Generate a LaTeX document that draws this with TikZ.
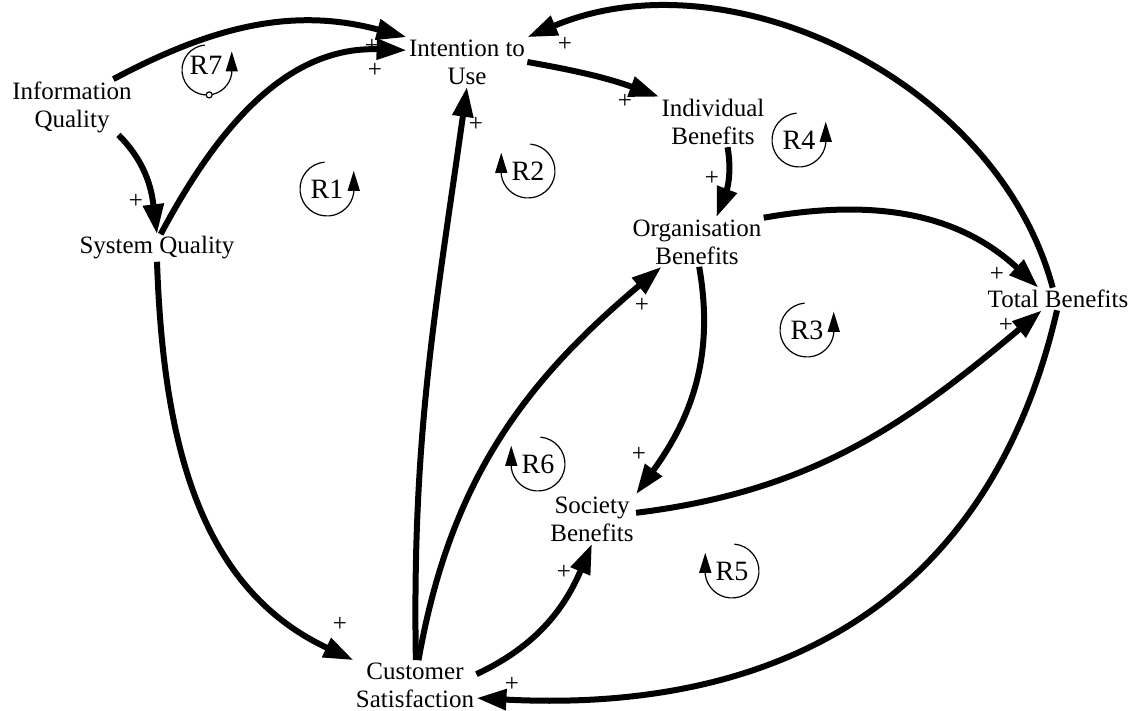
\documentclass[tikz,border=0pt]{standalone}
\usepackage{fontspec}
\setmainfont{Liberation Serif}
\usetikzlibrary{arrows.meta}
\begin{document}
\begin{tikzpicture}[x=0.5pt,y=0.5pt,
  var/.style={align=center,inner sep=1pt,font=\fontsize{12.5}{14}\selectfont},
  pol/.style={inner sep=0pt,font=\fontsize{12.5}{14}\selectfont},
  loopname/.style={inner sep=0pt,font=\fontsize{14}{15}\selectfont},
  link/.style={line width=3pt,-{Triangle[length=15pt,width=10pt]}},
  loopline/.style={line width=0.6pt,-{Triangle[length=10pt,width=6pt]}}]
\useasboundingbox (0,0) rectangle (1132,-711);
\node[var] (infoq) at (72,-107) {Information\\Quality};
\node[var] (intent) at (467,-62) {Intention to\\Use};
\node[var] (indiv) at (713,-122) {Individual\\Benefits};
\node[var] (org) at (697,-242) {Organisation\\Benefits};
\node[var] (total) at (1058,-299) {Total Benefits};
\node[var] (sysq) at (157,-248) {System Quality};
\node[var] (cust) at (415,-685) {Customer\\Satisfaction};
\node[var] (soc) at (592,-519) {Society\\Benefits};
\node[pol] (p1) at (372,-46) {+};
\node[pol] (p2) at (375,-70) {+};
\node[pol] (p3) at (136,-201) {+};
\node[pol] (p4) at (340,-624) {+};
\node[pol] (p5) at (476,-124) {+};
\node[pol] (p6) at (642,-305) {+};
\node[pol] (p7) at (564,-572) {+};
\node[pol] (p8) at (625,-101) {+};
\node[pol] (p9) at (712,-178) {+};
\node[pol] (p10) at (997,-274) {+};
\node[pol] (p11) at (639,-454) {+};
\node[pol] (p12) at (1006,-325) {+};
\node[pol] (p13) at (565,-44) {+};
\node[pol] (p14) at (512,-684) {+};
\draw[link] (infoq.34) to[out=28,in=165] (intent.north west);
\draw[link] (sysq.75) to[out=62,in=178] (intent.169);
\draw[link] (infoq.-31) to[out=-45,in=97] (sysq.north);
\draw[link] (sysq.south) to[out=-88,in=155] (cust.north west);
\draw[link] (cust.88) to[out=91,in=-98] (intent.south);
\draw[link] (cust.82) to[out=80,in=-140] (org.215);
\draw[link] (cust.10) to[out=25,in=-113] (soc.south);
\draw[link] (intent.east) to[out=-10,in=160] (indiv.north west);
\draw[link] (indiv.-60) to[out=-80,in=69] (org.52);
\draw[link] (org.20) to[out=10,in=137] (total.150);
\draw[link] (org.-85) to[out=-80,in=54] (soc.north east);
\draw[link] (soc.8) to[out=7,in=-140] (total.215);
\draw[link] (total.115) to[out=105,in=23,looseness=0.95] (intent.north east);
\draw[link] (total.265) to[out=-103,in=-3,looseness=1.1] (cust.-12);
\node[loopname] (r7) at (206,-65) {R7};
\draw[loopline] (207,-70) ++(95:25) arc[start angle=95,end angle=352,radius=25] -- ++(0,22);
\draw[line width=0.6pt,fill=white] (207,-70) ++(-85:25) circle[radius=3];
\node[loopname] (r1) at (327,-189) {R1};
\draw[loopline] (r1.center) ++(95:27) arc[start angle=95,end angle=352,radius=27] -- ++(0,22);
\node[loopname] (r2) at (528,-171) {R2};
\draw[loopline] (r2.center) ++(85:27) arc[start angle=85,end angle=-172,radius=27] -- ++(0,22);
\node[loopname] (r4) at (799,-140) {R4};
\draw[loopline] (r4.center) ++(95:27) arc[start angle=95,end angle=352,radius=27] -- ++(0,22);
\node[loopname] (r3) at (807,-330) {R3};
\draw[loopline] (r3.center) ++(95:27) arc[start angle=95,end angle=352,radius=27] -- ++(0,22);
\node[loopname] (r6) at (538,-464) {R6};
\draw[loopline] (r6.center) ++(85:27) arc[start angle=85,end angle=-172,radius=27] -- ++(0,22);
\node[loopname] (r5) at (732,-571) {R5};
\draw[loopline] (r5.center) ++(85:27) arc[start angle=85,end angle=-172,radius=27] -- ++(0,22);
\end{tikzpicture}
\end{document}
